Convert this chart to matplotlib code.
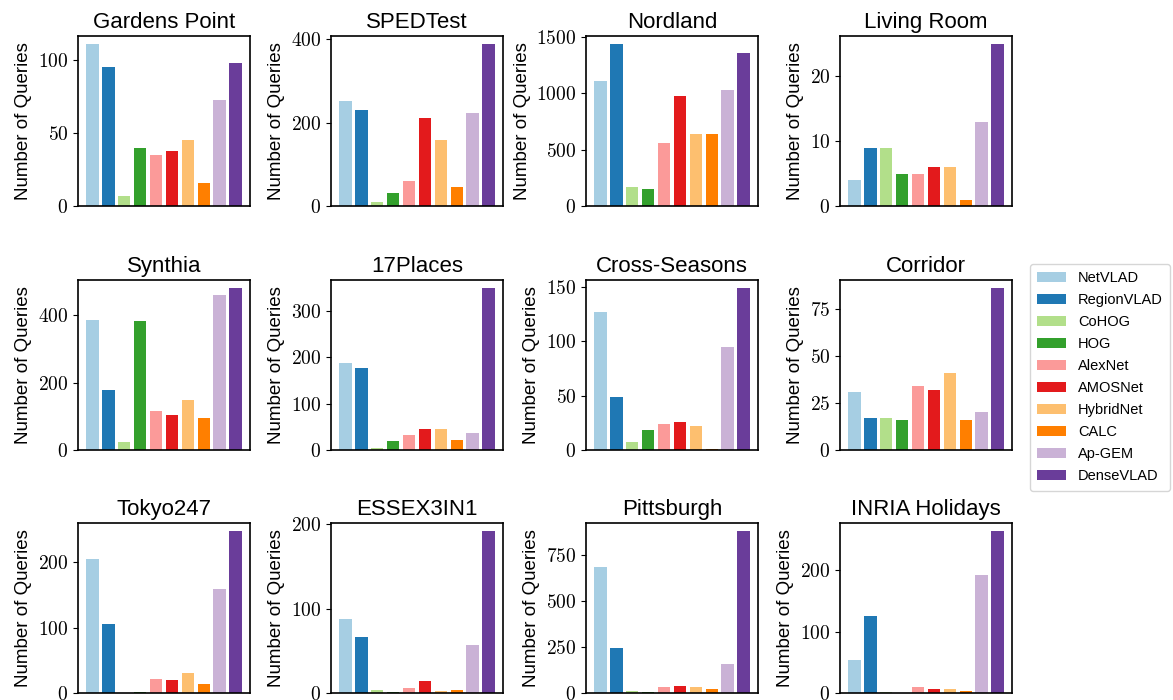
import matplotlib
matplotlib.use("Agg")
import matplotlib.pyplot as plt
from matplotlib.ticker import FuncFormatter
from matplotlib.patches import Patch

plt.rcParams['font.family'] = ['Liberation Sans', 'DejaVu Sans']
plt.rcParams['mathtext.fontset'] = 'cm'

methods = ['NetVLAD', 'RegionVLAD', 'CoHOG', 'HOG', 'AlexNet', 'AMOSNet',
           'HybridNet', 'CALC', 'Ap-GEM', 'DenseVLAD']
datasets = ['Gardens Point', 'SPEDTest', 'Nordland', 'Living Room',
            'Synthia', '17Places', 'Cross-Seasons', 'Corridor',
            'Tokyo247', 'ESSEX3IN1', 'Pittsburgh', 'INRIA Holidays']

gardens_point = [111, 95, 7, 40, 35, 38, 45, 16, 73, 98]
spedtest = [251, 231, 10, 32, 59, 212, 157, 46, 222, 388]
nordland = [1108, 1436, 165, 155, 563, 975, 635, 643, 1027, 1356]
living_room = [4, 9, 9, 5, 5, 6, 6, 1, 13, 25]
synthia = [385, 177, 25, 381, 115, 103, 148, 94, 459, 480]
places17 = [188, 177, 4, 19, 32, 45, 45, 21, 36, 350]
cross_seasons = [127, 49, 7, 18, 24, 26, 22, 1, 95, 149]
corridor = [31, 17, 17, 16, 34, 32, 41, 16, 20, 86]
tokyo247 = [206, 105, 0, 2, 22, 20, 31, 14, 159, 248]
essex3in1 = [88, 67, 4, 1, 6, 14, 2, 4, 57, 192]
pittsburgh = [685, 245, 10, 3, 35, 40, 30, 20, 160, 880]
inria = [54, 126, 1, 0, 10, 7, 6, 3, 193, 264]

values = [gardens_point, spedtest, nordland, living_room, synthia, places17,
          cross_seasons, corridor, tokyo247, essex3in1, pittsburgh, inria]

colors = plt.get_cmap('Paired').colors[:10]

W, H = 1173, 700
fig = plt.figure(figsize=(W / 100, H / 100), dpi=100)

lefts = [78, 331, 586, 840]
tops = [36, 280, 523]
aw, ah = 172, 170

fmt = FuncFormatter(lambda v, p: r'$%d$' % int(round(v)))

for i, (name, vals) in enumerate(zip(datasets, values)):
    r, c = divmod(i, 4)
    ax = fig.add_axes([lefts[c] / W, 1 - (tops[r] + ah) / H, aw / W, ah / H])
    ax.bar(range(len(methods)), vals, color=colors, width=0.8)
    ax.set_xticks([])
    ax.set_title(name, fontsize=16)
    ax.set_ylabel('Number of Queries', fontsize=13.5)
    ax.yaxis.set_major_formatter(fmt)
    ax.tick_params(axis='y', labelsize=14)
    for s in ax.spines.values():
        s.set_linewidth(1.2)

handles = [Patch(facecolor=col, label=m) for col, m in zip(colors, methods)]
fig.legend(handles=handles, loc='center left', bbox_to_anchor=(1030 / W, 0.461),
           borderaxespad=0, fontsize=10.5, frameon=True, handlelength=2.0,
           handletextpad=0.8, borderpad=0.5, labelspacing=0.55)

fig.savefig('out.png', dpi=100)
